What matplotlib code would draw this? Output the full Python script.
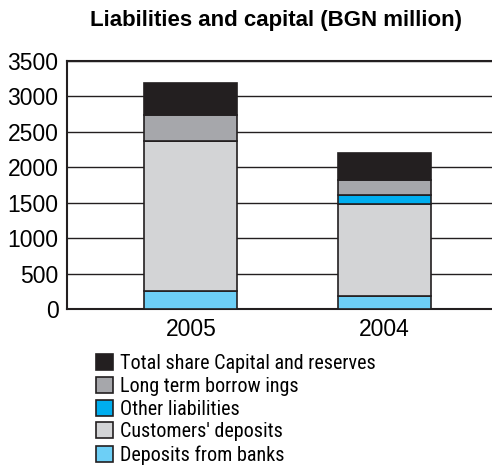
import matplotlib
matplotlib.use("Agg")
import matplotlib.pyplot as plt
import numpy as np

plt.rcParams['font.family'] = ['Liberation Sans', 'DejaVu Sans']
narrow = ['Roboto Condensed', 'Archivo Narrow', 'PT Sans Narrow', 'Liberation Sans']

# data (BGN million)
years = ['2005', '2004']
deposits_banks = [250, 184]
customers_deposits = [2127, 1294]
other_liabilities = [0, 136]
long_term = [363, 208]
capital = [452, 377]

series = [
    ('Deposits from banks', deposits_banks, '#6dcff6'),
    ("Customers' deposits", customers_deposits, '#d3d4d6'),
    ('Other liabilities', other_liabilities, '#00aeef'),
    ('Long term borrow ings', long_term, '#a6a7ab'),
    ('Total share Capital and reserves', capital, '#231f20'),
]

fig = plt.figure(figsize=(4.92, 4.65), dpi=100)
ax = fig.add_axes([0.136, 0.335, 0.87, 0.534])

x = np.arange(len(years))
bottom = np.zeros(len(years))
handles = []
for name, vals, col in series:
    b = ax.bar(x, vals, 0.48, bottom=bottom, color=col, edgecolor='#231f20',
               linewidth=1.2, label=name, zorder=3)
    bottom += np.array(vals)
    handles.append(b)

ax.set_ylim(0, 3500)
ax.set_xlim(-0.64, 1.57)
ax.set_yticks(np.arange(0, 3501, 500))
ax.set_xticks(x)
ax.set_xticklabels(years)
ax.yaxis.grid(True, color='#231f20', linewidth=1.0, zorder=0)
ax.tick_params(length=0, labelsize=16.5, pad=6)
for s in ['top', 'left', 'bottom']:
    ax.spines[s].set_linewidth(1.5)
    ax.spines[s].set_color('#231f20')
ax.spines['right'].set_visible(False)

fig.text(0.56, 0.955, 'Liabilities and capital (BGN million)', ha='center',
         va='center', fontsize=16, fontweight='bold')

leg = fig.legend(handles[::-1], [s[0] for s in series][::-1], loc='upper left',
                 bbox_to_anchor=(0.195, 0.239), frameon=False,
                 prop={'family': narrow, 'size': 14.5},
                 handlelength=0.85, handleheight=0.85, handletextpad=0.35,
                 labelspacing=0.19, borderaxespad=0, borderpad=0)

fig.savefig('out.png', dpi=100)
